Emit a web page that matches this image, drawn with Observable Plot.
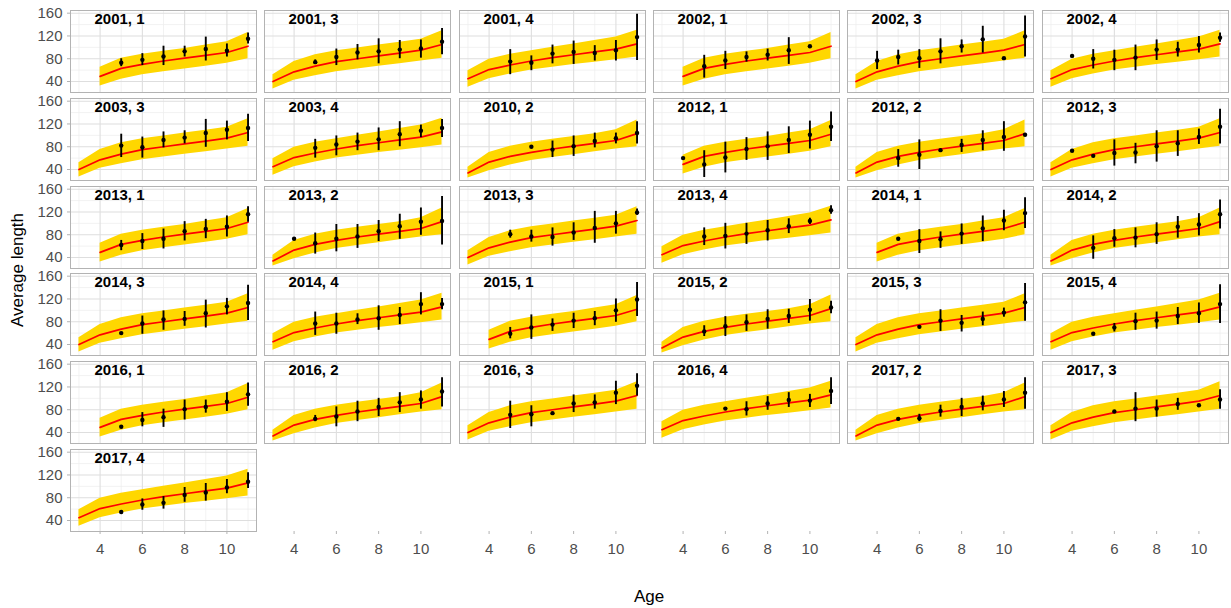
<!DOCTYPE html>
<html><head><meta charset="utf-8">
<script src="https://cdn.jsdelivr.net/npm/d3@7"></script>
<script src="https://cdn.jsdelivr.net/npm/@observablehq/plot@0.6"></script>
<style>
body{margin:0;background:#fff;}
#root{position:relative;width:1231px;height:608px;font-family:"Liberation Sans",Arial,sans-serif;overflow:hidden;}
.cell{position:absolute;}
.ylab{position:absolute;left:18px;top:270px;transform:translate(-50%,-50%) rotate(-90deg);font-size:17px;white-space:nowrap;color:#000;}
.xlab{position:absolute;left:649px;top:597px;transform:translate(-50%,-50%);font-size:17px;color:#000;}
</style></head><body><div id="root"><div class="ylab">Average length</div><div class="xlab">Age</div></div>
<script>
// ---- tick values ----
const majorX = [4, 6, 8, 10];
const minorX = [3, 5, 7, 9, 11];
const majorY = [40, 80, 120, 160];
const minorY = [60, 100, 140];
const xDomain = [2.6, 11.4];
const yDomain = [20.7, 164.7];

// ---- model curves by quarter (age, lower, mean, upper) ----
const q1Ages = [4, 5, 6, 7, 8, 9, 10, 11];
const q1Lo  = [32, 44, 52, 57, 62, 67, 72, 80];
const q1Mid = [49, 63, 70, 76, 81, 86, 91, 102];
const q1Hi  = [65, 81, 88, 93, 98, 104, 110, 126];
const qAges = [3, 4, 5, 6, 7, 8, 9, 10, 11];
const q2Lo  = [25, 38, 48, 56, 61, 66, 71, 76, 80];
const q2Mid = [34, 53, 63, 70, 76, 81, 86, 91, 103];
const q2Hi  = [44, 70, 81, 88, 93, 98, 103, 110, 127];
const q3Lo  = [27, 42, 50, 57, 62, 67, 71, 76, 81];
const q3Mid = [40, 57, 67, 75, 80, 85, 90, 95, 105];
const q3Hi  = [52, 75, 87, 94, 99, 104, 109, 114, 129];
const q4Lo  = [30, 45, 53, 60, 65, 70, 74, 78, 83];
const q4Mid = [45, 61, 69, 76, 82, 87, 92, 97, 106];
const q4Hi  = [59, 79, 88, 94, 100, 106, 112, 118, 130];

// ---- observed points: [age, mean, low, high] ----
const p2001_1 = [[5,73,66,80],[6,78,68,89],[7,84,68,102],[8,93,83,102],[9,97,76,118],[10,94,83,106],[11,115,106,125]];
const p2001_3 = [[5,74,70,78],[6,83,68,97],[7,91,78,105],[8,93,71,115],[9,96,80,112],[10,98,81,113],[11,110,87,133]];
const p2001_4 = [[5,75,52,96],[6,73,59,85],[7,89,71,104],[8,92,70,111],[9,90,76,103],[10,95,76,112],[11,118,77,158]];
const p2002_1 = [[5,67,46,86],[6,77,61,93],[7,83,74,92],[8,87,76,97],[9,95,70,117],[10,102,null,null]];
const p2002_3 = [[4,77,61,93],[5,83,69,95],[6,81,63,96],[7,93,71,115],[8,102,90,113],[9,114,90,137],[10,81,null,null],[11,119,83,155]];
const p2002_4 = [[4,85,null,null],[5,80,62,96],[6,78,59,95],[7,82,59,104],[8,96,77,113],[9,96,83,109],[10,104,90,119],[11,117,109,125]];
const p2003_3 = [[5,82,61,102],[6,79,60,97],[7,92,78,106],[8,96,85,108],[9,104,79,128],[10,110,92,125],[11,113,89,137]];
const p2003_4 = [[5,78,60,93],[6,84,64,99],[7,89,73,104],[8,93,73,113],[9,102,80,124],[10,108,96,118],[11,113,96,128]];
const p2010_2 = [[6,80,null,null],[7,75,61,90],[8,81,63,99],[9,90,78,104],[10,95,85,104],[11,104,85,124]];
const p2012_1 = [[4,60,null,null],[5,49,26,73],[6,61,34,88],[7,76,56,96],[8,81,56,106],[9,92,68,115],[10,101,76,125],[11,115,89,141]];
const p2012_2 = [[5,60,44,75],[6,66,40,92],[7,74,null,null],[8,83,70,93],[9,92,73,108],[10,97,72,124],[11,101,null,null]];
const p2012_3 = [[4,73,null,null],[5,64,null,null],[6,69,46,92],[7,70,50,86],[8,81,53,108],[9,86,63,108],[10,97,84,111],[11,115,85,146]];
const p2013_1 = [[5,62,52,70],[6,69,54,82],[7,73,55,90],[8,86,69,103],[9,90,73,107],[10,94,76,113],[11,116,102,129]];
const p2013_2 = [[4,73,null,null],[5,65,46,83],[6,73,50,98],[7,77,56,98],[8,86,68,105],[9,95,72,116],[10,103,79,127],[11,104,62,147]];
const p2013_3 = [[5,81,74,88],[6,77,67,88],[7,76,60,92],[8,84,70,101],[9,92,65,121],[10,100,81,121],[11,119,114,125]];
const p2013_4 = [[5,77,61,92],[6,78,55,100],[7,82,63,100],[8,88,69,105],[9,95,82,108],[10,104,98,109],[11,123,116,131]];
const p2014_1 = [[5,73,null,null],[6,69,47,89],[7,72,56,85],[8,82,63,99],[9,91,68,113],[10,105,87,123],[11,118,91,145]];
const p2014_2 = [[5,57,37,78],[6,74,58,89],[7,75,57,92],[8,81,63,101],[9,94,74,112],[10,98,78,117],[11,116,90,141]];
const p2014_3 = [[5,60,null,null],[6,77,58,90],[7,84,65,99],[8,85,72,98],[9,95,69,118],[10,107,92,121],[11,113,82,144]];
const p2014_4 = [[5,77,56,97],[6,77,58,95],[7,84,75,94],[8,86,65,108],[9,92,75,105],[10,111,92,131],[11,111,101,121]];
const p2015_1 = [[5,59,50,70],[6,70,49,92],[7,75,63,85],[8,82,68,95],[9,86,73,98],[10,100,79,120],[11,119,89,149]];
const p2015_2 = [[5,63,54,73],[6,72,54,89],[7,79,63,92],[8,85,67,101],[9,90,77,102],[10,101,81,119],[11,105,94,116]];
const p2015_3 = [[6,71,null,null],[7,82,63,101],[8,78,62,91],[9,85,73,97],[10,96,88,104],[11,114,81,147]];
const p2015_4 = [[5,59,null,null],[6,70,62,77],[7,81,65,95],[8,82,67,97],[9,90,75,105],[10,95,77,113],[11,111,77,145]];
const p2016_1 = [[5,50,null,null],[6,62,50,75],[7,67,49,81],[8,81,62,97],[9,85,74,97],[10,94,77,110],[11,107,86,127]];
const p2016_2 = [[5,64,59,70],[6,68,50,85],[7,77,59,95],[8,85,68,100],[9,93,75,110],[10,98,81,113],[11,112,85,136]];
const p2016_3 = [[5,71,47,95],[6,72,50,87],[7,74,null,null],[8,91,75,106],[9,93,81,106],[10,110,89,130],[11,122,104,143]];
const p2016_4 = [[6,82,null,null],[7,81,69,94],[8,91,79,103],[9,97,84,110],[10,96,84,107],[11,113,89,136]];
const p2017_2 = [[5,64,null,null],[6,65,59,72],[7,78,67,88],[8,85,68,100],[9,91,78,104],[10,98,84,112],[11,110,81,136]];
const p2017_3 = [[6,77,null,null],[7,82,59,110],[8,82,67,97],[9,90,79,100],[10,88,null,null],[11,98,81,115]];
const p2017_4 = [[5,55,null,null],[6,68,58,78],[7,71,60,82],[8,85,72,98],[9,89,74,105],[10,98,87,112],[11,108,96,124]];

const panelLabels = ["2001, 1","2001, 3","2001, 4","2002, 1","2002, 3","2002, 4","2003, 3","2003, 4","2010, 2","2012, 1","2012, 2","2012, 3","2013, 1","2013, 2","2013, 3","2013, 4","2014, 1","2014, 2","2014, 3","2014, 4","2015, 1","2015, 2","2015, 3","2015, 4","2016, 1","2016, 2","2016, 3","2016, 4","2017, 2","2017, 3","2017, 4"];
const panelObs = [p2001_1,p2001_3,p2001_4,p2002_1,p2002_3,p2002_4,p2003_3,p2003_4,p2010_2,p2012_1,p2012_2,p2012_3,p2013_1,p2013_2,p2013_3,p2013_4,p2014_1,p2014_2,p2014_3,p2014_4,p2015_1,p2015_2,p2015_3,p2015_4,p2016_1,p2016_2,p2016_3,p2016_4,p2017_2,p2017_3,p2017_4];

// ---- build tables ----
const mk = (ages, lo, mid, hi) => ages.map((a, k) => ({age: a, lo: lo[k], mid: mid[k], hi: hi[k]}));
const curves = {1: mk(q1Ages, q1Lo, q1Mid, q1Hi), 2: mk(qAges, q2Lo, q2Mid, q2Hi), 3: mk(qAges, q3Lo, q3Mid, q3Hi), 4: mk(qAges, q4Lo, q4Mid, q4Hi)};

// ---- layout ----
const NCOL = 6, panelW = 186, panelH = 82, left0 = 70, top0 = 10, stepX = 194.3, stepY = 87.8, yAxisW = 70, xAxisH = 30;
const root = document.getElementById("root");
const font = "'Liberation Sans', Arial, sans-serif";
const baseStyle = {fontFamily: font, fontSize: "15px", background: "transparent", overflow: "visible", color: "#4d4d4d"};

function gridMarks() {
  return [
    Plot.gridX(minorX, {stroke: "#ededed", strokeOpacity: 1, strokeWidth: 0.7}),
    Plot.gridY(minorY, {stroke: "#ededed", strokeOpacity: 1, strokeWidth: 0.7}),
    Plot.gridX(majorX, {stroke: "#dedede", strokeOpacity: 1, strokeWidth: 1.1}),
    Plot.gridY(majorY, {stroke: "#dedede", strokeOpacity: 1, strokeWidth: 1.1})
  ];
}
function xAxisMark() {
  return Plot.axisX(majorX, {tickSize: 3, tickPadding: 9, stroke: "#b3b3b3", fill: "#4d4d4d", fontSize: 15, label: null});
}

panelLabels.forEach((label, i) => {
  const col = i % NCOL, row = Math.floor(i / NCOL);
  const q = +label.split(", ")[1];
  const curve = curves[q];
  const rows = panelObs[i].map(([age, mean, lo, hi]) => ({age, mean, lo, hi}));
  const bars = rows.filter(d => d.lo != null);
  const first = col === 0;
  const bottom = row === 5;
  const marks = [
    ...gridMarks(),
    Plot.areaY(curve, {x: "age", y1: "lo", y2: "hi", fill: "#FFD700", curve: "linear"}),
    Plot.lineY(curve, {x: "age", y: "mid", stroke: "#ff0000", strokeWidth: 1.7}),
    Plot.ruleX(bars, {x: "age", y1: "lo", y2: "hi", stroke: "black", strokeWidth: 1.9}),
    Plot.dot(rows, {x: "age", y: "mean", r: 2.2, fill: "black", stroke: "none"}),
    Plot.frame({stroke: "#b3b3b3", strokeWidth: 1}),
    Plot.text([label], {text: d => d, frameAnchor: "top-left", textAnchor: "start", lineAnchor: "top", dx: 24, dy: 3, fontWeight: "bold", fontSize: 15, fill: "black"})
  ];
  if (first) marks.push(Plot.axisY(majorY, {tickSize: 3, tickPadding: 5, stroke: "#b3b3b3", fill: "#4d4d4d", fontSize: 15, label: null}));
  if (bottom) marks.push(xAxisMark());
  const chart = Plot.plot({
    width: panelW + (first ? yAxisW : 0),
    height: panelH + (bottom ? xAxisH : 0),
    marginLeft: first ? yAxisW : 0, marginRight: 0, marginTop: 0, marginBottom: bottom ? xAxisH : 0,
    x: {domain: xDomain, axis: null},
    y: {domain: yDomain, axis: null},
    style: baseStyle,
    marks
  });
  const cell = document.createElement("div");
  cell.className = "cell";
  cell.style.left = (left0 + col * stepX - (first ? yAxisW : 0)) + "px";
  cell.style.top = (top0 + row * stepY) + "px";
  cell.appendChild(chart);
  root.appendChild(cell);
});

// x axes beneath the empty bottom slots of columns 2-6
for (let col = 1; col < NCOL; col++) {
  const chart = Plot.plot({
    width: panelW, height: xAxisH + 1,
    marginLeft: 0, marginRight: 0, marginTop: 1, marginBottom: xAxisH,
    x: {domain: xDomain, axis: null},
    style: baseStyle,
    marks: [xAxisMark()]
  });
  const cell = document.createElement("div");
  cell.className = "cell";
  cell.style.left = (left0 + col * stepX) + "px";
  cell.style.top = (top0 + 5 * stepY + panelH - 1) + "px";
  cell.appendChild(chart);
  root.appendChild(cell);
}
</script></body></html>
